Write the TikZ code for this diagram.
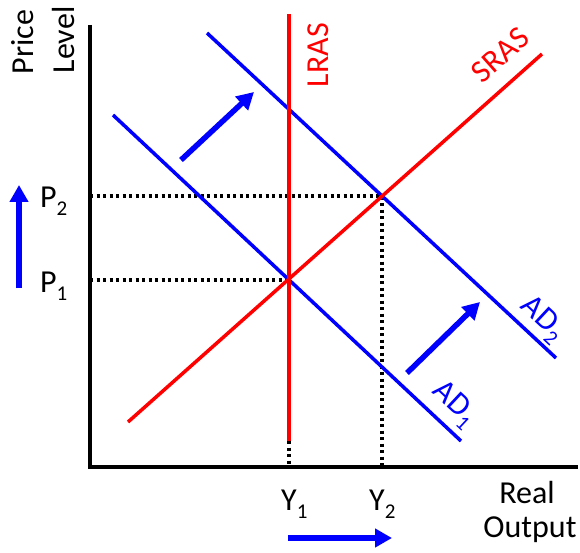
\documentclass[tikz,border=0pt]{standalone}
\usepackage{fontspec}
\setmainfont{Carlito}
\usetikzlibrary{arrows.meta}
\newcommand{\sbs}[1]{\raisebox{-8bp}{\fontsize{21bp}{21bp}\selectfont #1}}
\begin{document}
\begin{tikzpicture}[x=1bp,y=-1bp,
  lbl/.style={font=\fontsize{32bp}{34bp}\selectfont, inner sep=0pt},
  axisline/.style={line width=3.5bp, black},
  redline/.style={line width=3.5bp, red},
  blueline/.style={line width=3.5bp, blue},
  dotline/.style={line width=3.2bp, black, dash pattern=on 3bp off 3.5bp},
  shiftarrow/.style={line width=5.5bp, blue, -{Triangle[length=17bp,width=18bp]}}]
\useasboundingbox (0,0) rectangle (580,553);
% axes
\coordinate (otop) at (90,25);
\coordinate (orig) at (90,467);
\coordinate (xend) at (578,467);
\draw[axisline] (otop) -- (orig) -- (xend);
% points
\coordinate (E1) at (289,280);
\coordinate (E2) at (382,196);
\coordinate (P1a) at (90,280);
\coordinate (P2a) at (90,196);
\coordinate (Y1a) at (289,467);
\coordinate (Y2a) at (382,467);
\coordinate (lrasb) at (289,441);
\coordinate (lrast) at (289,14);
% dotted
\draw[dotline] (P2a) -- (E2) -- (Y2a);
\draw[dotline] (P1a) -- (E1);
\draw[dotline] (lrasb) -- (Y1a);
% curves
\coordinate (ad1a) at (113,115);
\coordinate (ad1b) at (461,441);
\coordinate (ad2a) at (207,33);
\coordinate (ad2b) at (556,358);
\coordinate (srasa) at (128,422);
\coordinate (srasb) at (542,54);
\draw[blueline] (ad1a) -- (ad1b);
\draw[blueline] (ad2a) -- (ad2b);
\draw[redline] (lrast) -- (lrasb);
\draw[redline] (srasa) -- (srasb);
% shift arrows
\coordinate (sa1) at (181,160);
\coordinate (sa1e) at (254,92);
\coordinate (sa2) at (407,373);
\coordinate (sa2e) at (480,302);
\draw[shiftarrow] (sa1) -- (sa1e);
\draw[shiftarrow] (sa2) -- (sa2e);
\coordinate (pa) at (19,288);
\coordinate (pae) at (19,185);
\draw[shiftarrow] (pa) -- (pae);
\coordinate (ya) at (288,538);
\coordinate (yae) at (392,538);
\draw[shiftarrow] (ya) -- (yae);
% labels
\node[lbl, rotate=90] (price) at (23,42) {Price};
\node[lbl, rotate=90] (level) at (63,40) {Level};
\node[lbl, anchor=base west] (p2) at (40,208) {P\sbs{2}};
\node[lbl, anchor=base west] (p1) at (40,292) {P\sbs{1}};
\node[lbl, anchor=base west] (y1) at (281,510) {Y\sbs{1}};
\node[lbl, anchor=base west] (y2) at (369,510) {Y\sbs{2}};
\node[lbl] (real) at (527,493) {Real};
\node[lbl] (output) at (530,530) {Output};
\node[lbl, red, rotate=90] (lras) at (318,55) {LRAS};
\node[lbl, red, rotate=41.6] (sras) at (500,55) {SRAS};
\node[lbl, blue, rotate=-43, anchor=center] (ad2) at (542,320) {AD\sbs{2}};
\node[lbl, blue, rotate=-43, anchor=center] (ad1) at (454,405) {AD\sbs{1}};
\end{tikzpicture}
\end{document}
